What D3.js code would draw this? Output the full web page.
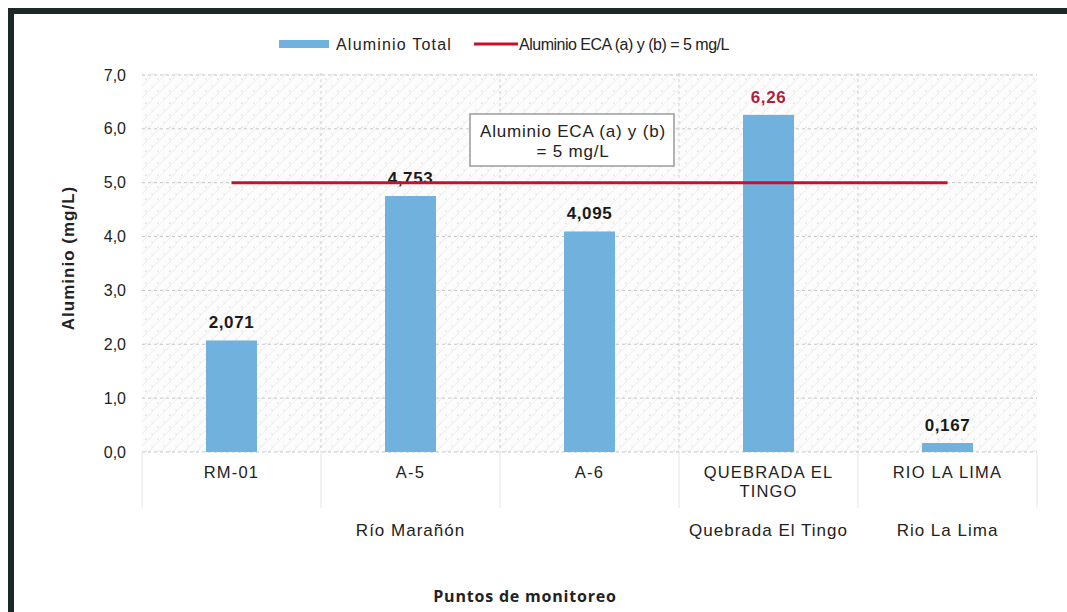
<!DOCTYPE html>
<html>
<head>
<meta charset="utf-8">
<script src="https://cdn.jsdelivr.net/npm/d3@7"></script>
<style>
  html, body { margin: 0; padding: 0; background: #fff; }
  svg { display: block; }
  text { font-family: "Liberation Sans", Arial, sans-serif; fill: #222; }
</style>
</head>
<body>
<svg id="chart" width="1067" height="612"></svg>
<script>
// Monitoring points and measured total aluminium (mg/L)
const categories = ["RM-01", "A-5", "A-6", "QUEBRADA EL TINGO", "RIO LA LIMA"];
const categoryLines = [["RM-01"], ["A-5"], ["A-6"], ["QUEBRADA EL", "TINGO"], ["RIO LA LIMA"]];
const values = [2.071, 4.753, 4.095, 6.26, 0.167];
const valueLabels = ["2,071", "4,753", "4,095", "6,26", "0,167"];
const groups = [
  { name: "Río Marañón", from: 0, to: 2 },
  { name: "Quebrada El Tingo", from: 3, to: 3 },
  { name: "Rio La Lima", from: 4, to: 4 }
];
const limitValue = 5;
const yTicks = [0, 1, 2, 3, 4, 5, 6, 7];
const seriesNames = ["Aluminio Total", "Aluminio ECA (a) y (b) = 5 mg/L"];

const barColor = "#70b1de";
const lineColor = "#c8102e";

const svg = d3.select("#chart");

// Frame
svg.append("rect").attr("x", 8).attr("y", 8).attr("width", 1059).attr("height", 6).attr("fill", "#1e2828");
svg.append("rect").attr("x", 8).attr("y", 8).attr("width", 6).attr("height", 604).attr("fill", "#1e2828");

const plot = { left: 142, right: 1037, top: 73, bottom: 452 };

const x = d3.scaleBand().domain(categories).range([plot.left, plot.right]).paddingInner(0).paddingOuter(0);
const y = d3.scaleLinear().domain([0, 7]).range([plot.bottom, 75]);

// Textured plot background
const defs = svg.append("defs");
const pat = defs.append("pattern").attr("id", "tex").attr("patternUnits", "userSpaceOnUse")
  .attr("width", 12).attr("height", 12);
pat.append("rect").attr("width", 12).attr("height", 12).attr("fill", "#fcfcfc");
pat.append("path").attr("d", "M-3,3 L3,-3 M0,12 L12,0 M9,15 L15,9")
  .attr("stroke", "#ededed").attr("stroke-width", 1);
pat.append("circle").attr("cx", 2).attr("cy", 7).attr("r", 0.6).attr("fill", "#b8b8b8");
pat.append("circle").attr("cx", 8).attr("cy", 2).attr("r", 0.5).attr("fill", "#cccccc");

svg.append("rect").attr("x", plot.left).attr("y", plot.top)
  .attr("width", plot.right - plot.left).attr("height", plot.bottom - plot.top)
  .attr("fill", "url(#tex)");

// Horizontal gridlines
svg.append("g").selectAll("line").data(yTicks).join("line")
  .attr("x1", plot.left).attr("x2", plot.right)
  .attr("y1", d => y(d)).attr("y2", d => y(d))
  .attr("stroke", "#c4c4c4").attr("stroke-width", 1).attr("stroke-dasharray", "3,3");

// Vertical separators between points (plot area and label area)
const bounds = categories.map(c => x(c)).concat([plot.right]);
svg.append("g").selectAll("line").data(bounds.slice(1, -1)).join("line")
  .attr("x1", d => d).attr("x2", d => d)
  .attr("y1", plot.top).attr("y2", plot.bottom)
  .attr("stroke", "#cfcfcf").attr("stroke-dasharray", "3,3");
svg.append("g").selectAll("line").data(bounds).join("line")
  .attr("x1", d => d).attr("x2", d => d)
  .attr("y1", plot.bottom).attr("y2", 508)
  .attr("stroke", "#e4e4e4");

// Y axis tick labels
const yAxis = d3.axisLeft(y).tickValues(yTicks).tickSize(0).tickPadding(16)
  .tickFormat(d => d3.format(".1f")(d).replace(".", ","));
const yG = svg.append("g").attr("transform", `translate(${plot.left},0)`).call(yAxis);
yG.select(".domain").remove();
yG.selectAll("text").attr("font-size", 16).attr("fill", "#222")
  .attr("font-family", "Liberation Sans, Arial, sans-serif");

// Bars
const barW = 51;
svg.append("g").selectAll("rect").data(values).join("rect")
  .attr("x", (d, i) => x(categories[i]) + x.bandwidth() / 2 - barW / 2)
  .attr("y", d => y(d))
  .attr("width", barW)
  .attr("height", d => y(0) - y(d))
  .attr("fill", barColor);

// Value labels
svg.append("g").selectAll("text").data(values).join("text")
  .attr("x", (d, i) => x(categories[i]) + x.bandwidth() / 2)
  .attr("y", d => y(d) - 12)
  .attr("text-anchor", "middle")
  .attr("font-size", 17).attr("font-weight", "bold").attr("letter-spacing", 0.6)
  .style("fill", (d, i) => d > limitValue ? "#b01e40" : "#1a1a1a")
  .text((d, i) => valueLabels[i]);

// Limit line
const cx0 = x(categories[0]) + x.bandwidth() / 2;
const cx1 = x(categories[categories.length - 1]) + x.bandwidth() / 2;
svg.append("line")
  .attr("x1", cx0).attr("x2", cx1)
  .attr("y1", y(limitValue)).attr("y2", y(limitValue))
  .attr("stroke", lineColor).attr("stroke-width", 3);

// Limit annotation box
const box = svg.append("g");
box.append("rect").attr("x", 470).attr("y", 114).attr("width", 204).attr("height", 52)
  .attr("fill", "#fff").attr("stroke", "#9a9a9a").attr("stroke-width", 1.5);
box.append("text").attr("x", 573).attr("y", 137).attr("text-anchor", "middle")
  .attr("font-size", 17).attr("letter-spacing", 0.8).text("Aluminio ECA (a) y (b)");
box.append("text").attr("x", 573).attr("y", 157).attr("text-anchor", "middle")
  .attr("font-size", 17).attr("letter-spacing", 0.8).text("= 5 mg/L");

// Category labels
const catG = svg.append("g");
categoryLines.forEach((lines, i) => {
  const cx = x(categories[i]) + x.bandwidth() / 2;
  const t = catG.append("text")
    .attr("x", cx).attr("y", 478).attr("text-anchor", "middle")
    .attr("font-size", 16.5).attr("letter-spacing", 1.2);
  lines.forEach((ln, k) => t.append("tspan")
    .attr("x", cx).attr("dy", k === 0 ? 0 : 19).text(ln));
});

// Group labels
svg.append("g").selectAll("text").data(groups).join("text")
  .attr("x", g => (x(categories[g.from]) + x(categories[g.to]) + x.bandwidth()) / 2)
  .attr("y", 536).attr("text-anchor", "middle").attr("font-size", 17).attr("letter-spacing", 1)
  .text(g => g.name);

// Axis titles
svg.append("text")
  .attr("transform", "translate(74,258) rotate(-90)")
  .attr("text-anchor", "middle").attr("font-size", 17).attr("font-weight", "bold")
  .attr("letter-spacing", 1)
  .text("Aluminio (mg/L)");
svg.append("text")
  .attr("x", 525).attr("y", 602).attr("text-anchor", "middle")
  .attr("font-size", 16).attr("font-weight", "bold").attr("letter-spacing", 0.8)
  .style("font-family", "'Open Sans', 'DejaVu Sans', sans-serif")
  .text("Puntos de monitoreo");

// Legend
const lg = svg.append("g");
lg.append("rect").attr("x", 279).attr("y", 40).attr("width", 50).attr("height", 8).attr("fill", barColor);
lg.append("text").attr("x", 336).attr("y", 50).attr("font-size", 16).attr("letter-spacing", 1.2)
  .text(seriesNames[0]);
lg.append("line").attr("x1", 474).attr("x2", 518).attr("y1", 44).attr("y2", 44)
  .attr("stroke", lineColor).attr("stroke-width", 3);
lg.append("text").attr("x", 519).attr("y", 50).attr("font-size", 16).attr("letter-spacing", -0.5)
  .text(seriesNames[1]);
</script>
</body>
</html>
